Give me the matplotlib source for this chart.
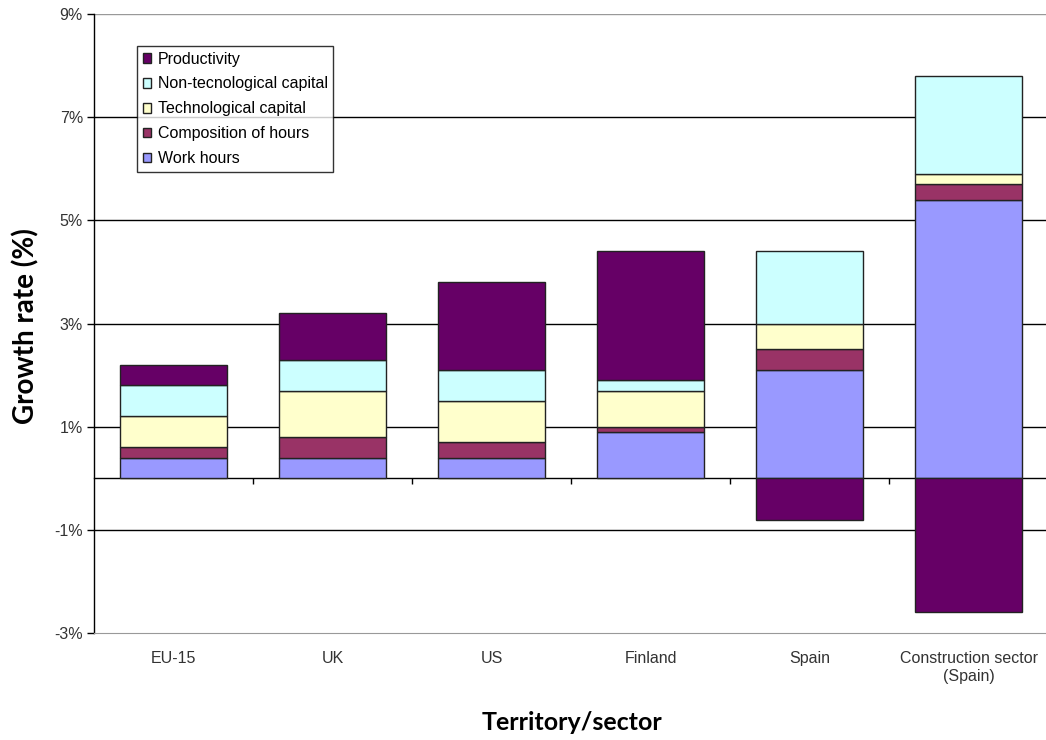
import matplotlib
matplotlib.use("Agg")
import matplotlib.pyplot as plt
import numpy as np

categories = ['EU-15', 'UK', 'US', 'Finland', 'Spain', 'Construction sector\n(Spain)']
work_hours = [0.4, 0.4, 0.4, 0.9, 2.1, 5.4]
composition_of_hours = [0.2, 0.4, 0.3, 0.1, 0.4, 0.3]
technological_capital = [0.6, 0.9, 0.8, 0.7, 0.5, 0.2]
non_technological_capital = [0.6, 0.6, 0.6, 0.2, 1.4, 1.9]
productivity = [0.4, 0.9, 1.7, 2.5, -0.8, -2.6]
ytick_values = [9, 7, 5, 3, 1, -1, -3]
ytick_labels = ['9%', '7%', '5%', '3%', '1%', '-1%', '-3%']

series = [
    ('Work hours', work_hours, '#9999FF'),
    ('Composition of hours', composition_of_hours, '#993366'),
    ('Technological capital', technological_capital, '#FFFFCC'),
    ('Non-tecnological capital', non_technological_capital, '#CCFFFF'),
    ('Productivity', productivity, '#660066'),
]

plt.rcParams['font.family'] = ['Liberation Sans', 'DejaVu Sans']

fig = plt.figure(figsize=(10.46, 7.40), dpi=100)
ax = fig.add_axes([94/1046, 1-633/740, 954/1046, (633-14)/740])

x = np.arange(len(categories))
width = 0.67
pos_bottom = np.zeros(len(categories))
handles = {}
for name, vals, color in series:
    vals = np.array(vals, dtype=float)
    bottoms = np.where(vals >= 0, pos_bottom, 0.0)
    h = ax.bar(x, vals, width, bottom=bottoms, color=color, edgecolor='#222222',
               linewidth=1.0, zorder=3, label=name)
    handles[name] = h
    pos_bottom = pos_bottom + np.where(vals >= 0, vals, 0.0)

ymin, ymax = -3, 9
ax.set_ylim(ymin, ymax)
ax.set_xlim(-0.5, len(categories) - 0.5)

ax.set_yticks(ytick_values)
ax.set_yticklabels(ytick_labels)
for v in ytick_values:
    if v == ymax or v == ymin:
        continue
    ax.axhline(v, color='black', linewidth=1.0, zorder=1)
ax.axhline(ymax, color='#999999', linewidth=1.0, zorder=1)

for s in ['top', 'right']:
    ax.spines[s].set_visible(False)
ax.spines['bottom'].set_color('#999999')
ax.spines['left'].set_color('black')
ax.spines['left'].set_linewidth(1.0)

ax.tick_params(axis='y', direction='out', length=5, width=1, colors='black',
               labelsize=11.5, labelcolor='#333333', pad=3)
ax.set_xticks(x)
ax.set_xticklabels(categories, fontsize=11.5, color='#333333', linespacing=1.25)
ax.tick_params(axis='x', length=0, pad=13)

# zero category axis with ticks between categories
zero_frac = (0 - ymin) / (ymax - ymin)
sec = ax.secondary_xaxis(zero_frac)
sec.set_xticks(np.arange(len(categories) - 1) + 0.5)
sec.set_xticklabels([])
sec.tick_params(direction='out', length=4, width=1, colors='black')
sec.spines['bottom'].set_color('black')
sec.spines['bottom'].set_linewidth(1.0)

fig.text(26/1046, 1-326/740, 'Growth rate (%)', family=['Lato', 'DejaVu Sans'],
         fontweight='bold', fontsize=20, ha='center', va='center', rotation=90)
fig.text(572/1046, 1-722/740, 'Territory/sector', family=['Lato', 'DejaVu Sans'],
         fontweight='bold', fontsize=18, ha='center', va='center')

order = ['Productivity', 'Non-tecnological capital', 'Technological capital',
         'Composition of hours', 'Work hours']
leg = ax.legend([handles[n] for n in order], order, loc='upper left',
                bbox_to_anchor=(137/1046, 1-46/740), bbox_transform=fig.transFigure,
                borderaxespad=0, fontsize=11.5, frameon=True, fancybox=False,
                edgecolor='black', handlelength=0.55, handleheight=0.55,
                handletextpad=0.4, labelspacing=0.62, borderpad=0.35)
leg.get_frame().set_linewidth(1.0)
leg.set_zorder(5)

fig.savefig('out.png', dpi=100)
